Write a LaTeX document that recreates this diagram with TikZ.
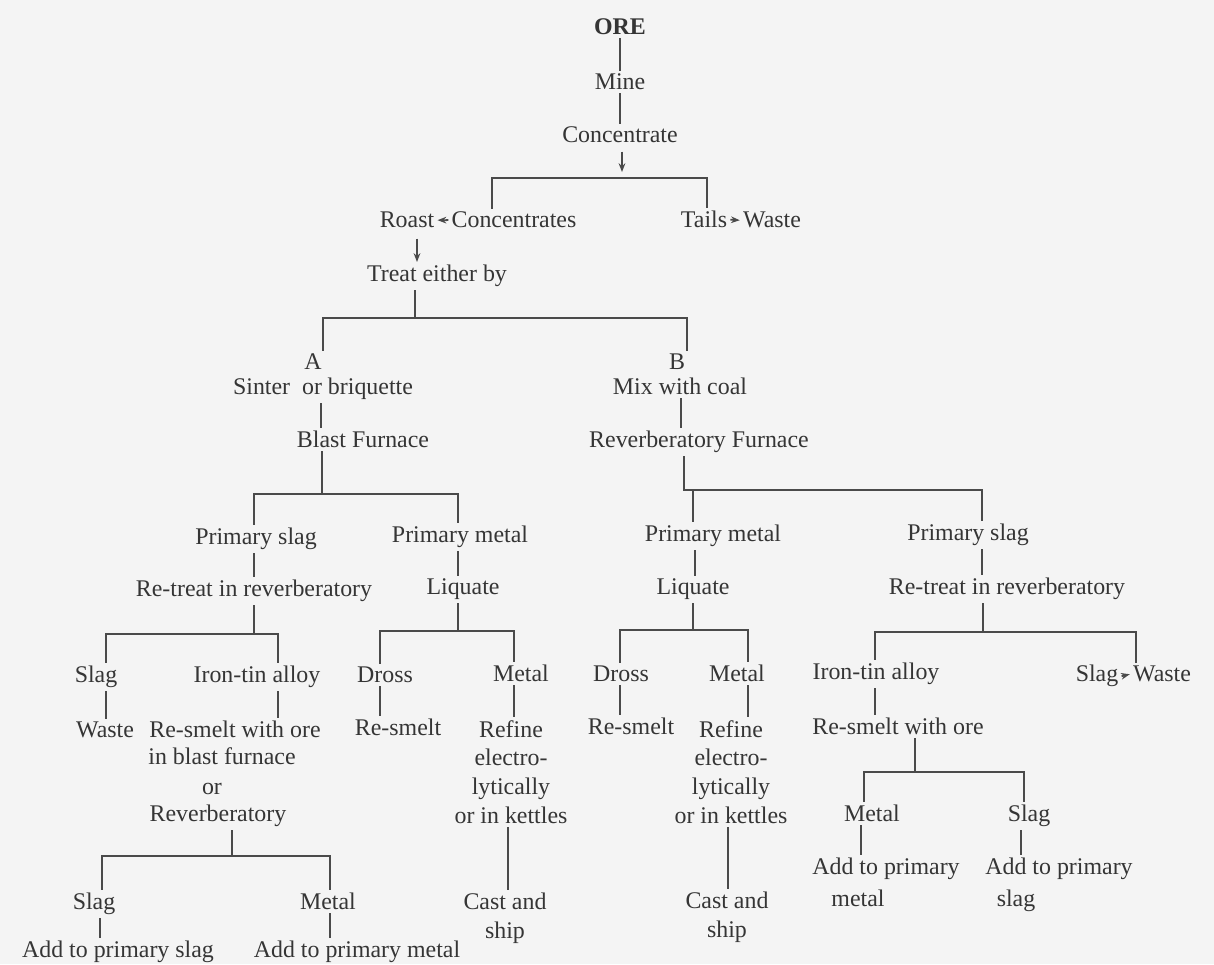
\documentclass[tikz,border=0pt]{standalone}
\usepackage{fontspec}
\setmainfont{Liberation Serif}
\usetikzlibrary{arrows.meta,calc}
\definecolor{txt}{HTML}{353535}
\definecolor{lnc}{HTML}{4A4A4A}
\definecolor{bg}{HTML}{F4F4F4}
\tikzset{
 lbl/.style={text=txt, inner sep=1.7pt, anchor=mid, yshift=-2.2pt, font=\fontsize{13.6pt}{16.4pt}\selectfont},
 blk/.style={lbl, anchor=north, align=center},
 ln/.style={draw=lnc, line width=1pt},
 arr/.style={ln, -{Stealth[length=5pt,width=3.8pt]}},
}
\begin{document}
\begin{tikzpicture}[x=0.02cm,y=-0.02cm]
\fill[bg] (0,0) rectangle (1214,964);
\useasboundingbox (0,0) rectangle (1214,964);

% ---------- nodes: top ----------
\node[lbl,font=\fontsize{13.6pt}{16.4pt}\selectfont\bfseries] (ore) at (620,27) {ORE};
\node[lbl] (mine) at (620,82) {Mine};
\node[lbl] (conc) at (620,135) {Concentrate};
\node[lbl] (roast) at (407,220) {Roast};
\node[lbl] (concs) at (514,220) {Concentrates};
\node[lbl] (tails) at (704,220) {Tails};
\node[lbl] (wasteT) at (772,220) {Waste};
\node[lbl] (treat) at (437,274) {Treat either by};
\node[lbl] (A) at (313,362) {A};
\node[lbl] (B) at (677,362) {B};
\node[lbl] (sinter) at (323,387) {Sinter\ \ or briquette};
\node[lbl] (mix) at (680,387) {Mix with coal};
\node[lbl] (blast) at (363,440) {Blast Furnace};
\node[lbl] (rev) at (699,440) {Reverberatory Furnace};

% ---------- branch A ----------
\node[lbl] (pslagA) at (256,537) {Primary slag};
\node[lbl] (pmetA) at (460,535) {Primary metal};
\node[lbl] (retA) at (254,589) {Re-treat in reverberatory};
\node[lbl] (liqA) at (463,587) {Liquate};
\node[lbl] (slagA) at (96,675) {Slag};
\node[lbl] (ironA) at (257,675) {Iron-tin alloy};
\node[lbl] (drossA) at (385,675) {Dross};
\node[lbl] (metA) at (521,674) {Metal};
\node[lbl] (wasteA) at (105,730) {Waste};
\node[lbl] (rs1) at (235,730) {Re-smelt with ore};
\node[lbl] (rs2) at (222,757) {in blast furnace};
\node[lbl] (rs3) at (212,787) {or};
\node[lbl] (rs4) at (218,814) {Reverberatory};
\node[lbl] (resA) at (398,728) {Re-smelt};
\node[blk] (refA) at (511,713) {Refine\\electro-\\lytically\\or in kettles};
\node[blk] (castA) at (505,886) {Cast and\\ship};
\node[lbl] (slagA2) at (94,902) {Slag};
\node[lbl] (metA2) at (328,902) {Metal};
\node[lbl] (addS) at (118,950) {Add to primary slag};
\node[lbl] (addM) at (357,950) {Add to primary metal};

% ---------- branch B ----------
\node[lbl] (pmetB) at (713,534) {Primary metal};
\node[lbl] (liqB) at (693,587) {Liquate};
\node[lbl] (drossB) at (621,674) {Dross};
\node[lbl] (metB) at (737,674) {Metal};
\node[lbl] (resB) at (631,727) {Re-smelt};
\node[blk] (refB) at (731,713) {Refine\\electro-\\lytically\\or in kettles};
\node[blk] (castB) at (727,885) {Cast and\\ship};
\node[lbl] (pslagB) at (968,533) {Primary slag};
\node[lbl] (retB) at (1007,587) {Re-treat in reverberatory};
\node[lbl] (ironB) at (876,672) {Iron-tin alloy};
\node[lbl] (slagB) at (1097,674) {Slag};
\node[lbl] (wasteB) at (1162,674) {Waste};
\node[lbl] (rsB) at (898,727) {Re-smelt with ore};
\node[lbl] (metB2) at (872,814) {Metal};
\node[lbl] (slagB2) at (1029,814) {Slag};
\node[lbl] (addM1) at (886,867) {Add to primary};
\node[lbl] (addM2) at (858,899) {metal};
\node[lbl] (addS1) at (1059,867) {Add to primary};
\node[lbl] (addS2) at (1016,899) {slag};

% ---------- junction coordinates ----------
\coordinate (j1) at (622,178); \coordinate (j1a) at (492,178); \coordinate (j1b) at (707,178);
\coordinate (j2) at (415,318); \coordinate (j2a) at (323,318); \coordinate (j2b) at (687,318);
\coordinate (j3) at (322,494); \coordinate (j3a) at (254,494); \coordinate (j3b) at (458,494);
\coordinate (j4) at (254,634); \coordinate (j4a) at (106,634); \coordinate (j4b) at (278,634);
\coordinate (j5) at (232,856); \coordinate (j5a) at (102,856); \coordinate (j5b) at (330,856);
\coordinate (j6) at (458,631); \coordinate (j6a) at (380,631); \coordinate (j6b) at (514,631);
\coordinate (j7) at (684,490); \coordinate (j7a) at (693,490); \coordinate (j7b) at (982,490);
\coordinate (j8) at (693,630); \coordinate (j8a) at (620,630); \coordinate (j8b) at (748,630);
\coordinate (j9) at (983,632); \coordinate (j9a) at (875,632); \coordinate (j9b) at (1136,632);
\coordinate (j10) at (915,772); \coordinate (j10a) at (864,772); \coordinate (j10b) at (1024,772);
\coordinate (v417) at (417,0); \coordinate (v321) at (321,0); \coordinate (v100) at (100,0);
\coordinate (v508) at (508,0); \coordinate (v681) at (681,0); \coordinate (v695) at (695,0);
\coordinate (v728) at (728,0); \coordinate (v861) at (861,0); \coordinate (v1021) at (1021,0);

% ---------- connectors: top ----------
\draw[ln] (ore) -- (mine);
\draw[ln] (mine) -- (conc);
\draw[arr, shorten <=3pt, shorten >=3.4pt] (conc.south -| j1) -- (j1);
\draw[ln] (concs.north -| j1a) -- (j1a) -- (j1b) -- (tails.north -| j1b);
\draw[arr] (concs.west) -- (roast.east);
\draw[arr] (tails.east) -- (wasteT.west);
\draw[arr, shorten <=4pt] (roast.south -| v417) -- (treat.north -| v417);
\draw[ln] (treat.south -| j2) -- (j2);
\draw[ln] (A.north -| j2a) -- (j2a) -- (j2b) -- (B.north -| j2b);
\draw[ln] (sinter.south -| v321) -- (blast.north -| v321);
\draw[ln] (mix.south -| v681) -- (rev.north -| v681);

% ---------- connectors: branch A ----------
\draw[ln] (blast.south -| j3) -- (j3);
\draw[ln] (pslagA.north -| j3a) -- (j3a) -- (j3b) -- (pmetA.north -| j3b);
\draw[ln] (pslagA.south -| j3a) -- (retA.north -| j3a);
\draw[ln] (retA.south -| j4) -- (j4);
\draw[ln] (slagA.north -| j4a) -- (j4a) -- (j4b) -- (ironA.north -| j4b);
\draw[ln] (slagA.south -| j4a) -- (wasteA.north -| j4a);
\draw[ln] (ironA.south -| j4b) -- (rs1.north -| j4b);
\draw[ln] (rs4.south -| j5) -- (j5);
\draw[ln] (slagA2.north -| j5a) -- (j5a) -- (j5b) -- (metA2.north -| j5b);
\draw[ln] (slagA2.south -| v100) -- (addS.north -| v100);
\draw[ln] (metA2.south -| j5b) -- (addM.north -| j5b);
\draw[ln] (pmetA.south -| j3b) -- (liqA.north -| j3b);
\draw[ln] (liqA.south -| j6) -- (j6);
\draw[ln] (drossA.north -| j6a) -- (j6a) -- (j6b) -- (metA.north -| j6b);
\draw[ln] (drossA.south -| j6a) -- (resA.north -| j6a);
\draw[ln] (metA.south -| j6b) -- (refA.north -| j6b);
\draw[ln] (refA.south -| v508) -- (castA.north -| v508);

% ---------- connectors: branch B ----------
\draw[ln] (rev.south -| j7) -- (j7) -- (j7b) -- (pslagB.north -| j7b);
\draw[ln] (j7a) -- (pmetB.north -| j7a);
\draw[ln] (pmetB.south -| v695) -- (liqB.north -| v695);
\draw[ln] (liqB.south -| j8) -- (j8);
\draw[ln] (drossB.north -| j8a) -- (j8a) -- (j8b) -- (metB.north -| j8b);
\draw[ln] (drossB.south -| j8a) -- (resB.north -| j8a);
\draw[ln] (metB.south -| j8b) -- (refB.north -| j8b);
\draw[ln] (refB.south -| v728) -- (castB.north -| v728);
\draw[ln] (pslagB.south -| j7b) -- (retB.north -| j7b);
\draw[ln] (retB.south -| j9) -- (j9);
\draw[ln] (ironB.north -| j9a) -- (j9a) -- (j9b) -- (wasteB.north -| j9b);
\draw[arr] (slagB.east) -- (wasteB.west);
\draw[ln] (ironB.south -| j9a) -- (rsB.north -| j9a);
\draw[ln] (rsB.south -| j10) -- (j10);
\draw[ln] (metB2.north -| j10a) -- (j10a) -- (j10b) -- (slagB2.north -| j10b);
\draw[ln] (metB2.south -| v861) -- (addM1.north -| v861);
\draw[ln] (slagB2.south -| v1021) -- (addS1.north -| v1021);
\end{tikzpicture}
\end{document}
